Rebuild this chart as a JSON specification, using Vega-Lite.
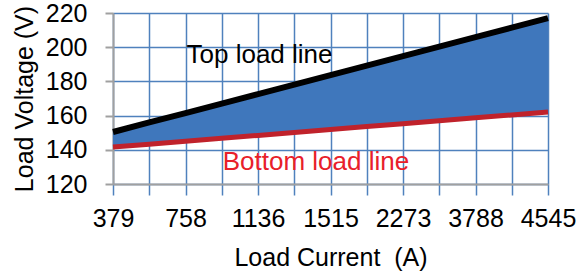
{
  "$schema": "https://vega.github.io/schema/vega-lite/v6.json",
  "width": 435,
  "height": 171,
  "autosize": {"type": "none"},
  "padding": {"left": 113, "top": 13, "right": 31, "bottom": 93},
  "background": "white",
  "config": {
    "view": {"stroke": null},
    "font": "Liberation Sans",
    "axis": {"labelFont": "Liberation Sans", "titleFont": "Liberation Sans", "labelColor": "#000", "titleColor": "#000", "titleFontWeight": "normal"},
    "axisY": {
      "title": "Load Voltage (V)",
      "titleFontSize": 25, "titlePadding": 8,
      "labelFontSize": 25, "labelPadding": 18, "labelOverlap": false, "labelFlush": false,
      "tickCount": 6,
      "grid": true, "gridColor": "#4f81bd", "gridWidth": 1.5,
      "tickColor": "#a0a0a0", "tickSize": 8, "tickWidth": 2,
      "domainColor": "#a0a0a0", "domainWidth": 2
    },
    "axisX": {
      "titleFontSize": 25, "titlePadding": 14,
      "labelFontSize": 25, "labelPadding": 11, "labelAngle": 0, "labelOverlap": false,
      "grid": true, "gridColor": "#4f81bd", "gridWidth": 1.5,
      "tickColor": "#4f81bd", "tickSize": 11, "tickWidth": 1.5,
      "domainColor": "#a0a0a0", "domainWidth": 2
    }
  },
  "datasets": {
    "loads": [
      {"current": "379", "top": 150.4, "bottom": 141.6},
      {"current": "568", "top": 156.0, "bottom": 143.3},
      {"current": "758", "top": 161.5, "bottom": 145.0},
      {"current": "947", "top": 167.0, "bottom": 146.7},
      {"current": "1136", "top": 172.6, "bottom": 148.4},
      {"current": "1326", "top": 178.1, "bottom": 150.1},
      {"current": "1515", "top": 183.7, "bottom": 151.9},
      {"current": "1894", "top": 189.2, "bottom": 153.6},
      {"current": "2273", "top": 194.8, "bottom": 155.3},
      {"current": "3030", "top": 200.3, "bottom": 157.0},
      {"current": "3788", "top": 205.9, "bottom": 158.7},
      {"current": "4167", "top": 211.4, "bottom": 160.4},
      {"current": "4545", "top": 217.0, "bottom": 162.1}
    ],
    "notes": [
      {"current": "758", "v": 190.8, "label": "Top load line", "kind": "top"},
      {"current": "947", "v": 128.2, "label": "Bottom load line", "kind": "bottom"}
    ]
  },
  "layer": [
    {
      "data": {"name": "loads"},
      "mark": {"type": "area", "color": "#3f77bc", "opacity": 1},
      "encoding": {
        "x": {
          "field": "current", "type": "nominal", "sort": null,
          "scale": {"type": "point", "padding": 0, "domain": ["379","568","758","947","1136","1326","1515","1894","2273","3030","3788","4167","4545"]},
          "axis": {
            "title": "Load Current\u00a0 (A)",
            "labelExpr": "(datum.label == '379' || datum.label == '758' || datum.label == '1136' || datum.label == '1515' || datum.label == '2273' || datum.label == '3788' || datum.label == '4545') ? datum.label : ''"
          }
        },
        "y": {
          "field": "bottom", "type": "quantitative",
          "scale": {"domain": [120, 220], "nice": false, "zero": false},
          "axis": {"title": "Load Voltage (V)", "values": [120, 140, 160, 180, 200, 220]}
        },
        "y2": {"field": "top"}
      }
    },
    {
      "data": {"name": "loads"},
      "mark": {"type": "line", "color": "#c0222b", "strokeWidth": 5},
      "encoding": {
        "x": {"field": "current", "type": "nominal", "sort": null},
        "y": {"field": "bottom", "type": "quantitative", "axis": {"title": "Load Voltage (V)", "values": [120, 140, 160, 180, 200, 220]}}
      }
    },
    {
      "data": {"name": "loads"},
      "mark": {"type": "line", "color": "#000000", "strokeWidth": 6},
      "encoding": {
        "x": {"field": "current", "type": "nominal", "sort": null},
        "y": {"field": "top", "type": "quantitative", "axis": {"title": "Load Voltage (V)", "values": [120, 140, 160, 180, 200, 220]}}
      }
    },
    {
      "data": {"name": "notes"},
      "mark": {"type": "text", "align": "left", "baseline": "alphabetic", "fontSize": 26, "font": "Liberation Sans", "dx": 1},
      "encoding": {
        "x": {"field": "current", "type": "nominal", "sort": null},
        "y": {"field": "v", "type": "quantitative", "axis": {"title": "Load Voltage (V)", "values": [120, 140, 160, 180, 200, 220]}},
        "text": {"field": "label"},
        "color": {"field": "kind", "type": "nominal", "scale": {"domain": ["top", "bottom"], "range": ["#000000", "#e8202a"]}, "legend": null}
      }
    }
  ]
}
